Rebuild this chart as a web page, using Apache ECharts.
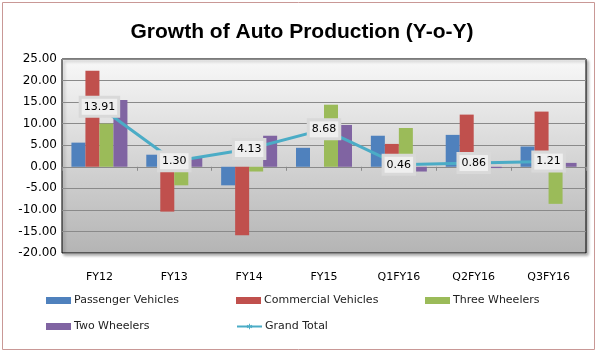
<!DOCTYPE html>
<html>
<head>
<meta charset="utf-8">
<script src="https://cdn.jsdelivr.net/npm/echarts@6/dist/echarts.min.js"></script>
<style>
  html, body { margin: 0; padding: 0; background: #fff; }
  #main { width: 604px; height: 353px; }
</style>
</head>
<body>
<div id="main"></div>
<script>
// values (growth %, year on year)
var categories = ["FY12", "FY13", "FY14", "FY15", "Q1FY16", "Q2FY16", "Q3FY16"];
var passenger = [5.6, 2.8, -4.3, 4.4, 7.2, 7.4, 4.7];
var commercial = [22.3, -10.4, -15.9, 0, 5.3, 12.1, 12.8];
var threeWheelers = [10.0, -4.3, -1.1, 14.4, 9.0, -0.3, -8.6];
var twoWheelers = [15.5, 2.1, 7.2, 9.7, -1.1, -0.3, 0.9];
var grandTotal = [13.91, 1.30, 4.13, 8.68, 0.46, 0.86, 1.21];

var font = "DejaVu Sans";
var star = "path://M4.2,0h1.6v3.6l3.1-1.8 0.8,1.4-3.1,1.8 3.1,1.8-0.8,1.4-3.1-1.8v3.6h-1.6v-3.6l-3.1,1.8-0.8-1.4 3.1-1.8-3.1-1.8 0.8-1.4 3.1,1.8z";

function barSeries(name, data, color) {
    return {
        name: name,
        type: "bar",
        data: data,
        barWidth: 14,
        barGap: "0%",
        itemStyle: { color: color }
    };
}

function legendItem(name, left, top) {
    return {
        data: [name],
        left: left,
        top: top,
        padding: 0,
        icon: name === "Grand Total" ? undefined : "rect",
        itemWidth: 25,
        itemHeight: 7,
        textStyle: { fontFamily: font, fontSize: 11, color: "#222", padding: [0, 0, 0, -2] }
    };
}

var chart = echarts.init(document.getElementById("main"));

var option = {
    animation: false,
    title: {
        text: "Growth of Auto Production (Y-o-Y)",
        left: "center",
        top: 17,
        textStyle: {
            fontFamily: "Liberation Sans",
            fontSize: 21,
            fontWeight: "bold",
            color: "#000"
        }
    },
    graphic: [{
        type: "rect",
        shape: { x: 2.5, y: 2.5, width: 592, height: 347 },
        style: { fill: "none", stroke: "#c99896", lineWidth: 1 },
        silent: true
    }],
    legend: [
        legendItem("Passenger Vehicles", 46, 295),
        legendItem("Commercial Vehicles", 236, 295),
        legendItem("Three Wheelers", 425, 295),
        legendItem("Two Wheelers", 46, 321),
        legendItem("Grand Total", 236, 321)
    ],
    grid: {
        left: 62,
        right: 18,
        top: 59,
        bottom: 100,
        show: true,
        borderColor: "#000",
        borderWidth: 1,
        shadowColor: "rgba(0,0,0,0.35)",
        shadowBlur: 3,
        shadowOffsetX: 2,
        shadowOffsetY: 2,
        backgroundColor: {
            type: "linear", x: 0, y: 0, x2: 0, y2: 1,
            colorStops: [
                { offset: 0, color: "#f8f8f8" },
                { offset: 1, color: "#b4b4b4" }
            ]
        }
    },
    xAxis: [{
        type: "category",
        data: categories,
        position: "bottom",
        axisLine: { show: false, onZero: false },
        axisTick: { show: false },
        axisLabel: { fontFamily: font, fontSize: 11, color: "#000", margin: 19 }
    }, {
        type: "category",
        data: categories,
        position: "bottom",
        axisLine: { show: true, onZero: true, lineStyle: { color: "#8a8a8a" } },
        axisTick: { show: true, length: 4, lineStyle: { color: "#8a8a8a" } },
        axisLabel: { show: false }
    }],
    yAxis: {
        type: "value",
        min: -20,
        max: 25,
        interval: 5,
        axisLine: { show: false },
        axisTick: { show: false },
        splitLine: { lineStyle: { color: "#8a8a8a" } },
        axisLabel: {
            fontFamily: font,
            fontSize: 12,
            color: "#000",
            margin: 5,
            formatter: function (v) { return v.toFixed(2); }
        }
    },
    series: [
        barSeries("Passenger Vehicles", passenger, "#4f81bd"),
        barSeries("Commercial Vehicles", commercial, "#c0504d"),
        barSeries("Three Wheelers", threeWheelers, "#9bbb59"),
        barSeries("Two Wheelers", twoWheelers, "#8064a2"),
        {
            name: "Grand Total",
            type: "line",
            data: grandTotal,
            symbol: star,
            symbolSize: 9,
            itemStyle: { color: "#4bacc6" },
            lineStyle: { color: "#4bacc6", width: 3 },
            z: 5,
            label: {
                show: true,
                position: "inside",
                formatter: function (p) { return p.value.toFixed(2); },
                fontFamily: font,
                fontSize: 11,
                color: "#000",
                backgroundColor: "#efefef",
                padding: [3, 2, 2, 2],
                borderColor: "#d9d9d9",
                borderWidth: 3
            }
        }
    ]
};

chart.setOption(option);
</script>
</body>
</html>
